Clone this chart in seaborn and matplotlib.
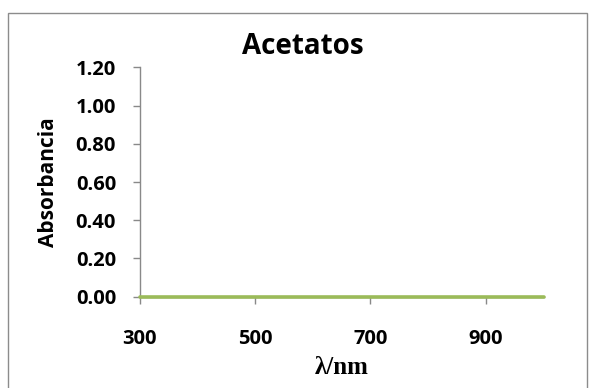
import matplotlib
matplotlib.use("Agg")
import matplotlib.pyplot as plt
import seaborn as sns
import pandas as pd

# Spectrum readings
wavelength_nm = [300, 400, 500, 600, 700, 800, 900, 1000]
absorbance = [0.00, 0.00, 0.00, 0.00, 0.00, 0.00, 0.00, 0.00]
x_ticks = [300, 500, 700, 900]
y_ticks = [0.00, 0.20, 0.40, 0.60, 0.80, 1.00, 1.20]

sns.set_theme(style="white")
plt.rcParams["font.family"] = ["Open Sans", "DejaVu Sans"]
plt.rcParams["text.color"] = "black"
plt.rcParams["axes.labelcolor"] = "black"

df = pd.DataFrame({"wavelength": wavelength_nm, "absorbance": absorbance})

fig = plt.figure(figsize=(5.89, 3.88), dpi=100)
ax = fig.add_axes([0.2372, 0.2353, 0.6857, 0.5912])

sns.lineplot(data=df, x="wavelength", y="absorbance", ax=ax,
             color="#9BBB59", linewidth=2.6, clip_on=False, zorder=5)

ax.set_xlim(300, 1000)
ax.set_ylim(0, 1.2)
ax.set_xticks(x_ticks)
ax.set_yticks(y_ticks)
ax.set_xticklabels([str(v) for v in x_ticks])
ax.set_yticklabels([f"{v:.2f}" for v in y_ticks])

axis_grey = "#898989"
for side in ("top", "right"):
    ax.spines[side].set_visible(False)
for side in ("left", "bottom"):
    ax.spines[side].set_color(axis_grey)
    ax.spines[side].set_linewidth(1.0)

ax.tick_params(axis="both", which="major", direction="out", length=5,
               width=1.0, color=axis_grey, labelsize=14.5, labelcolor="black")
ax.tick_params(axis="x", pad=18)
ax.tick_params(axis="y", pad=12)
ax.tick_params(bottom=True, left=True)
for lbl in ax.get_xticklabels() + ax.get_yticklabels():
    lbl.set_fontweight("bold")

ax.set_xlabel("λ/nm", fontsize=18, fontweight="bold", color="black",
              family=["Liberation Serif", "DejaVu Serif"], labelpad=5)
ax.set_ylabel("Absorbancia", fontsize=15, fontweight="bold", color="black",
              labelpad=12)

fig.text(0.5136, 0.8797, "Acetatos", fontsize=20, fontweight="bold",
         color="black", ha="center", va="center")

# Chart-area frame
frame = plt.Rectangle((0.0141, -0.05), 0.983, 0.9657 + 0.05,
                      transform=fig.transFigure, fill=False,
                      edgecolor="#8c8c8c", linewidth=1.0, clip_on=False)
fig.patches.append(frame)

fig.savefig("out.png", dpi=100)
